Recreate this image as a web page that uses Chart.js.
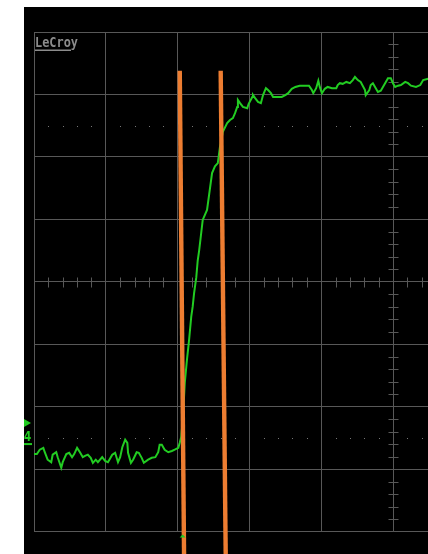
<!DOCTYPE html>
<html>
<head>
<meta charset="utf-8">
<script src="https://cdn.jsdelivr.net/npm/chart.js@4.4.1/dist/chart.umd.min.js"></script>
<style>
  html, body { margin: 0; padding: 0; background: #fff; overflow: hidden; }
  #screen { position: absolute; left: 24px; top: 7px; width: 404px; height: 547px; background: #000; overflow: hidden; }
  #scope { display: block; }
</style>
</head>
<body>
<div id="screen"><canvas id="scope" width="740" height="547"></canvas></div>
<script>
// Time and voltage in screen divisions (10 x 8 grid, right part cropped off)
const timeDiv = [
  0.00, 0.04, 0.08, 0.13, 0.15, 0.19, 0.24, 0.26, 0.31, 0.33, 0.38, 0.40, 0.45, 0.49, 0.53, 0.56,
  0.60, 0.64, 0.68, 0.71, 0.75, 0.79, 0.82, 0.86, 0.89, 0.95, 0.99, 1.03, 1.09, 1.13, 1.17, 1.20,
  1.23, 1.27, 1.30, 1.31, 1.35, 1.38, 1.43, 1.46, 1.50, 1.53, 1.59, 1.64, 1.69, 1.73, 1.75, 1.78,
  1.82, 1.87, 1.92, 1.96, 2.01, 2.03, 2.05,
  2.08, 2.10, 2.13, 2.16, 2.19, 2.21, 2.23, 2.26, 2.28, 2.30, 2.35, 2.41, 2.48, 2.52, 2.56, 2.59,
  2.63, 2.69, 2.73, 2.77, 2.80, 2.83, 2.84,
  2.87, 2.91, 2.97, 2.99, 3.04, 3.05, 3.08, 3.12, 3.16, 3.19, 3.23, 3.26, 3.30, 3.33, 3.36, 3.40,
  3.45, 3.50, 3.54, 3.59, 3.64, 3.70, 3.77, 3.83, 3.87, 3.89, 3.93, 3.96, 3.98, 4.01, 4.05, 4.09,
  4.15, 4.21, 4.23, 4.26, 4.30, 4.35, 4.40, 4.44, 4.47, 4.51, 4.55, 4.61, 4.62, 4.67, 4.69, 4.72,
  4.76, 4.79, 4.83, 4.89, 4.93, 4.97, 5.00, 5.03, 5.07, 5.11, 5.17, 5.21, 5.25, 5.32, 5.38, 5.42,
  5.49
]
const voltDiv = [
  -2.76, -2.76, -2.69, -2.66, -2.73, -2.85, -2.89, -2.77, -2.73, -2.81, -2.98, -2.89, -2.76, -2.74, -2.81, -2.76,
  -2.66, -2.73, -2.81, -2.79, -2.77, -2.82, -2.90, -2.85, -2.89, -2.81, -2.87, -2.89, -2.77, -2.74, -2.89, -2.81,
  -2.65, -2.53, -2.58, -2.74, -2.90, -2.85, -2.73, -2.74, -2.82, -2.90, -2.85, -2.82, -2.81, -2.73, -2.61, -2.61,
  -2.69, -2.73, -2.71, -2.69, -2.66, -2.58, -2.49,
  -2.05, -1.62, -1.25, -0.93, -0.56, -0.40, -0.18, 0.07, 0.34, 0.50, 0.99, 1.15, 1.74, 1.85, 1.90, 2.16,
  2.40, 2.54, 2.59, 2.62, 2.70, 2.80, 2.91,
  2.86, 2.80, 2.78, 2.85, 2.96, 2.99, 2.94, 2.88, 2.86, 2.99, 3.10, 3.07, 3.02, 2.96, 2.96, 2.96,
  2.96, 2.99, 3.02, 3.09, 3.12, 3.14, 3.14, 3.14, 3.07, 3.02, 3.10, 3.22, 3.12, 3.02, 3.09, 3.12,
  3.10, 3.10, 3.15, 3.18, 3.17, 3.20, 3.18, 3.23, 3.28, 3.23, 3.20, 3.07, 2.99, 3.07, 3.15, 3.18,
  3.10, 3.04, 3.06, 3.18, 3.26, 3.26, 3.18, 3.12, 3.14, 3.15, 3.20, 3.18, 3.14, 3.12, 3.15, 3.23,
  3.25
]

// Two hand-drawn orange marker lines (top and bottom ends)
const markerTimeTop = [2.03, 2.60]
const markerTimeBottom = [2.09, 2.67]
const markerLevelTop = 3.38
const markerLevelBottom = -4.36

// Dotted reference levels, trigger time and channel offset marker
const refLevels = [2.5, -2.5]
const triggerTime = 2.07
const channelOffset = -2.6
const channelName = '4'

const GRID = '#585858'
const TRACE = '#22cc22'
const MARKER = '#ed7d31'

const trace = timeDiv.map((t, i) => ({ x: t, y: voltDiv[i] }))

const markerSets = markerTimeTop.map((t, i) => ({
  data: [
    { x: t, y: markerLevelTop },
    { x: markerTimeBottom[i], y: markerLevelBottom }
  ],
  borderColor: MARKER,
  borderWidth: 4.4,
  borderCapStyle: 'butt',
  pointRadius: 0,
  clip: false
}))

// Graticule extras, labels and trigger arrows
const scopeDecor = {
  id: 'scopeDecor',
  beforeDatasetsDraw(chart) {
    const { ctx, scales: { x, y } } = chart
    ctx.save()
    // minor ticks on center lines
    const cx = Math.round(x.getPixelForValue(5)) + 0.5
    const cy = Math.round(y.getPixelForValue(0)) + 0.5
    ctx.strokeStyle = GRID
    ctx.lineWidth = 1
    ctx.beginPath()
    for (let v = -4; v <= 4.001; v += 0.2) {
      if (Math.abs(v - Math.round(v)) < 0.01) continue
      const py = Math.round(y.getPixelForValue(v)) + 0.5
      ctx.moveTo(cx - 5, py)
      ctx.lineTo(cx + 5, py)
    }
    for (let t = 0; t <= 10.001; t += 0.2) {
      if (Math.abs(t - Math.round(t)) < 0.01) continue
      const px = Math.round(x.getPixelForValue(t)) + 0.5
      ctx.moveTo(px, cy - 5)
      ctx.lineTo(px, cy + 5)
    }
    ctx.stroke()
    // dotted reference levels
    ctx.fillStyle = '#777777'
    refLevels.forEach((lv) => {
      const py = Math.round(y.getPixelForValue(lv))
      for (let t = 0; t <= 10.001; t += 0.2) {
        if (Math.abs(t - Math.round(t)) < 0.01) continue
        ctx.fillRect(Math.round(x.getPixelForValue(t)), py, 1, 1)
      }
    })
    ctx.restore()
  },
  afterDraw(chart) {
    const { ctx, chartArea, scales: { x, y } } = chart
    ctx.save()
    // brand label
    ctx.fillStyle = '#8c8c8c'
    ctx.font = 'bold 14px "DejaVu Sans Mono"'
    ctx.textBaseline = 'alphabetic'
    ctx.save()
    ctx.translate(chartArea.left + 1, chartArea.top + 15)
    ctx.scale(0.85, 1)
    ctx.fillText('LeCroy', 0, 0)
    ctx.restore()
    ctx.fillRect(chartArea.left + 1, chartArea.top + 17.5, 36, 1.5)
    // channel offset marker on the left edge
    const oy = y.getPixelForValue(channelOffset)
    ctx.fillStyle = TRACE
    ctx.beginPath()
    ctx.moveTo(0, oy - 25)
    ctx.lineTo(7, oy - 21)
    ctx.lineTo(0, oy - 17)
    ctx.closePath()
    ctx.fill()
    ctx.save()
    ctx.translate(0, oy - 3)
    ctx.scale(0.8, 1.1)
    ctx.font = 'bold 13px "DejaVu Sans"'
    ctx.fillText(channelName, 0, 0)
    ctx.restore()
    ctx.fillRect(0, oy - 1, 8, 2)
    // trigger position arrow under the grid
    const tx = x.getPixelForValue(triggerTime)
    ctx.beginPath()
    ctx.moveTo(tx - 3, chartArea.bottom + 6)
    ctx.lineTo(tx, chartArea.bottom + 3)
    ctx.lineTo(tx + 3, chartArea.bottom + 6)
    ctx.closePath()
    ctx.fill()
    ctx.restore()
  }
}

new Chart(document.getElementById('scope').getContext('2d'), {
  type: 'line',
  data: {
    datasets: [
      ...markerSets,
      {
        data: trace,
        borderColor: TRACE,
        borderWidth: 2,
        pointRadius: 0,
        tension: 0
      }
    ]
  },
  options: {
    responsive: false,
    animation: false,
    devicePixelRatio: 1,
    layout: { padding: { left: 10, top: 25, right: 12, bottom: 22.5 } },
    scales: {
      x: {
        type: 'linear',
        min: 0,
        max: 10,
        ticks: { display: false, stepSize: 1 },
        grid: { color: GRID, drawTicks: false },
        border: { display: true, color: GRID },
        afterFit: (s) => { s.height = 0 }
      },
      y: {
        type: 'linear',
        min: -4,
        max: 4,
        ticks: { display: false, stepSize: 1 },
        grid: { color: GRID, drawTicks: false },
        border: { display: true, color: GRID },
        afterFit: (s) => { s.width = 0 }
      }
    },
    plugins: {
      legend: { display: false },
      tooltip: { enabled: false }
    }
  },
  plugins: [scopeDecor]
})
</script>
</body>
</html>
